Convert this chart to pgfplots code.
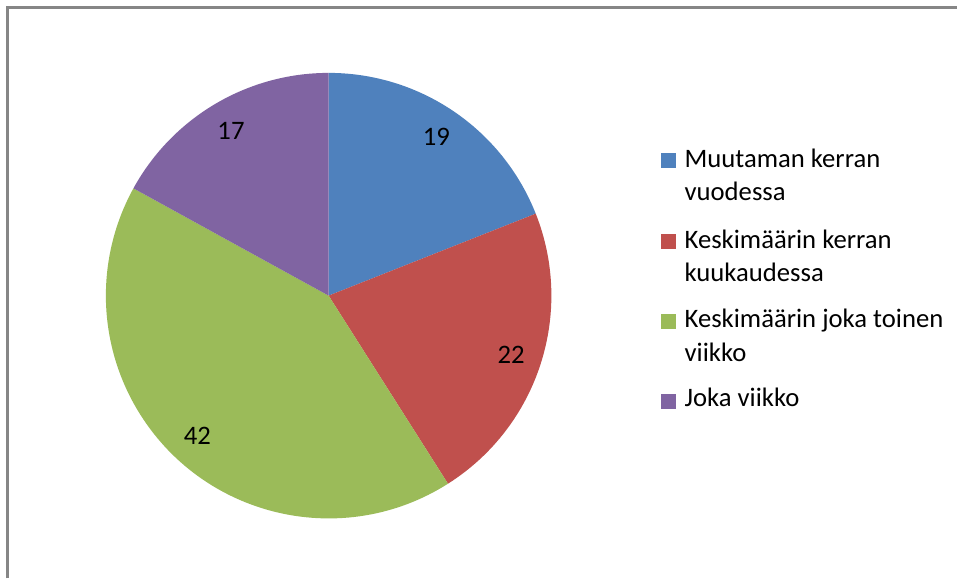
\documentclass[border=0pt]{standalone}
\usepackage{fontspec}
\setmainfont{Carlito}
\usepackage{pgfplots}
\usepackage{pgfplotstable}
\pgfplotsset{compat=1.18}
\definecolor{pieblue}{HTML}{4F81BD}
\definecolor{piered}{HTML}{C0504D}
\definecolor{piegreen}{HTML}{9BBB59}
\definecolor{piepurple}{HTML}{8064A2}
\definecolor{frame}{HTML}{868686}
\pgfplotstableread{
value color
19 pieblue
22 piered
42 piegreen
17 piepurple
}\piedata
\begin{document}
\begin{tikzpicture}[font=\fontsize{13.4}{16}\selectfont]
\begin{axis}[x=0.5bp,y=0.5bp,xmin=0,xmax=958,ymin=0,ymax=579,
  hide axis, clip=false, anchor=origin, at={(0,0)}]
\fill[white] (axis cs:0,0) rectangle (axis cs:958,579);
\draw[line width=1.1bp, frame] (axis cs:7.5,0) -- (axis cs:7.5,571.5) -- (axis cs:958,571.5);
\gdef\cumangle{90}
\pgfplotsinvokeforeach{0,1,2,3}{
  \pgfplotstablegetelem{#1}{value}\of\piedata
  \xdef\val{\pgfplotsretval}
  \pgfplotstablegetelem{#1}{color}\of\piedata
  \xdef\col{\pgfplotsretval}
  \pgfmathsetmacro\sa{\cumangle}
  \pgfmathsetmacro\ea{\cumangle-3.6*\val}
  \pgfmathsetmacro\ma{(\sa+\ea)/2}
  \xdef\cumangle{\ea}
  \edef\temp{\noexpand\fill[\col] (axis cs:329,283) -- ++(\sa:111.5bp) arc[start angle=\sa, end angle=\ea, radius=111.5bp] -- cycle;
   \noexpand\path (axis cs:329,283) ++(\ma:96bp) node[inner sep=0pt] {\val};}
  \temp
}
% legend
\fill[pieblue] (axis cs:662,411) rectangle (axis cs:677,426);
\fill[piered] (axis cs:662,330) rectangle (axis cs:677,345);
\fill[piegreen] (axis cs:662,250) rectangle (axis cs:677,265);
\fill[piepurple] (axis cs:662,170) rectangle (axis cs:677,185);
\node[anchor=base west, inner sep=0pt] at (axis cs:685,411) {Muutaman kerran};
\node[anchor=base west, inner sep=0pt] at (axis cs:685,378) {vuodessa};
\node[anchor=base west, inner sep=0pt] at (axis cs:685,330) {Keskimäärin kerran};
\node[anchor=base west, inner sep=0pt] at (axis cs:685,297) {kuukaudessa};
\node[anchor=base west, inner sep=0pt] at (axis cs:685,251) {Keskimäärin joka toinen};
\node[anchor=base west, inner sep=0pt] at (axis cs:685,217) {viikko};
\node[anchor=base west, inner sep=0pt] at (axis cs:685,172) {Joka viikko};
\end{axis}
\end{tikzpicture}
\end{document}
